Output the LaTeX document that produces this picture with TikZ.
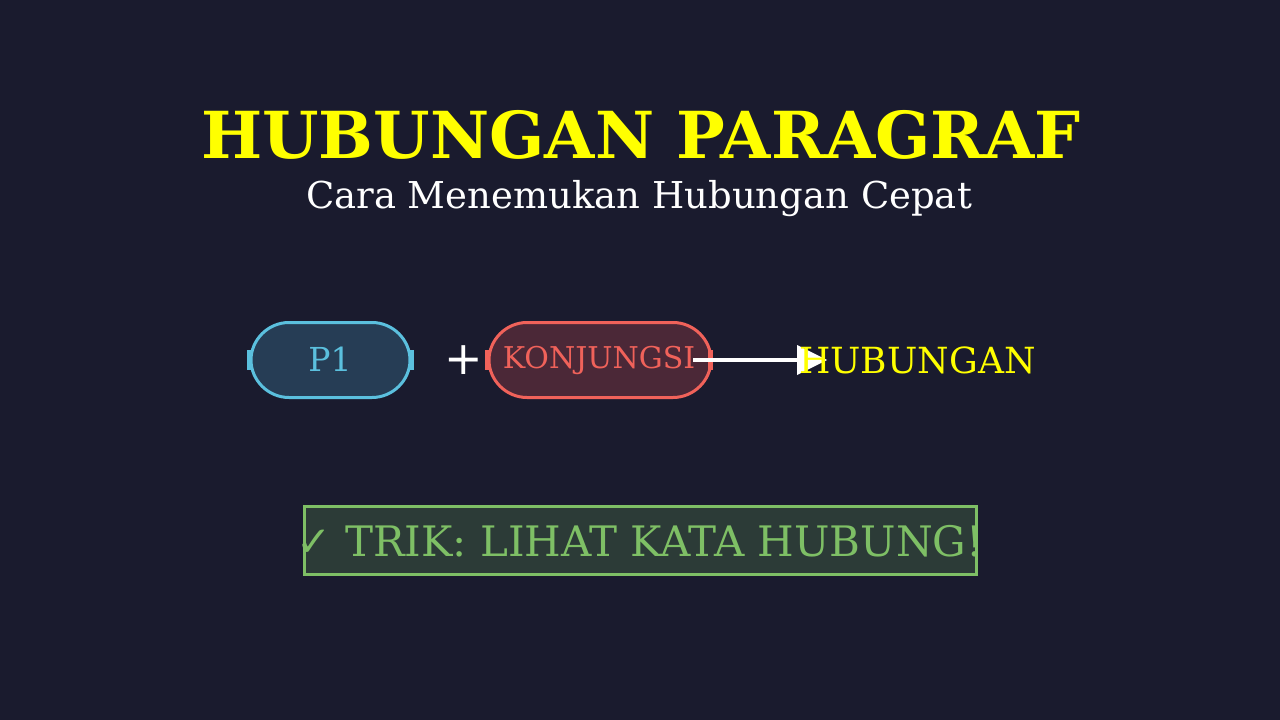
\documentclass[tikz,border=0pt]{standalone}
\usepackage{fontspec}
\setmainfont{DejaVu Serif}
\newfontfamily\symfont{DejaVu Sans}
\definecolor{bgc}{HTML}{1A1B2E}
\definecolor{ttl}{HTML}{FFFF00}
\definecolor{blu}{HTML}{5BC0DE}
\definecolor{bluf}{HTML}{263D55}
\definecolor{redc}{HTML}{F0625A}
\definecolor{redf}{HTML}{4B2837}
\definecolor{grn}{HTML}{7EBF65}
\definecolor{grnf}{HTML}{2C3B37}
% #1 left x, #2 right x, #3 end width, #4 style
\newcommand{\mycapsule}[4]{%
  \path[#4] (#1+#3,322.5) -- (#2-#3,322.5)
    .. controls (#2-0.448*#3,322.5) and (#2,339.8) .. (#2,360)
    .. controls (#2,380.2) and (#2-0.448*#3,397.5) .. (#2-#3,397.5)
    -- (#1+#3,397.5)
    .. controls (#1+0.448*#3,397.5) and (#1,380.2) .. (#1,360)
    .. controls (#1,339.8) and (#1+0.448*#3,322.5) .. (#1+#3,322.5) -- cycle;}
\tikzset{
  fs/.style={font=\fontsize{#1}{#1}\selectfont},
}
\begin{document}
\begin{tikzpicture}[x=1pt,y=-1pt]
\fill[bgc] (0,0) rectangle (1280,720);
\useasboundingbox (0,0) rectangle (1280,720);
% title
\node[text=ttl, anchor=base, inner sep=0pt, font=\fontsize{64.8}{65}\selectfont\bfseries] (title) at (641,158) {HUBUNGAN PARAGRAF};
\node[fs=37, text=white, anchor=base, inner sep=0pt] (sub) at (639,208) {Cara Menemukan Hubungan Cepat};
% P1 capsule
\mycapsule{251}{410}{38}{fill=bluf, draw=blu, line width=3pt}
\fill[blu] (247,350) rectangle (252,370);
\fill[blu] (409,350) rectangle (414,370);
\node[fs=33, text=blu, anchor=base, inner sep=0pt] (p1) at (330,371) {P1};
% plus
\node[text=white, anchor=center, inner sep=0pt, font=\symfont\fontsize{46}{46}\selectfont] (plus) at (464,360) {+};
% KONJUNGSI capsule
\mycapsule{489}{711}{38}{fill=redf, draw=redc, line width=3pt}
\fill[redc] (485,350) rectangle (490,370);
\fill[redc] (708,350) rectangle (713,370);
\node[fs=30, text=redc, anchor=base, inner sep=0pt] (konj) at (599,368) {KONJUNGSI};
% arrow
\coordinate (astart) at (693,360);
\coordinate (aend) at (798,360);
\draw[white, line width=4pt] (astart) -- (aend);
\fill[white] (797,345) -- (827,360) -- (797,375) -- cycle;
\node[fs=36, text=ttl, anchor=base west, inner sep=0pt] (hub) at (799,373) {HUBUNGAN};
% trick box
\draw[fill=grnf, draw=grn, line width=3pt] (304,506) rectangle (976,574);
\node[fs=42, text=grn, anchor=base, inner sep=0pt] (trik) at (640,556) {{\symfont ✓} TRIK: LIHAT KATA HUBUNG!};
\end{tikzpicture}
\end{document}
